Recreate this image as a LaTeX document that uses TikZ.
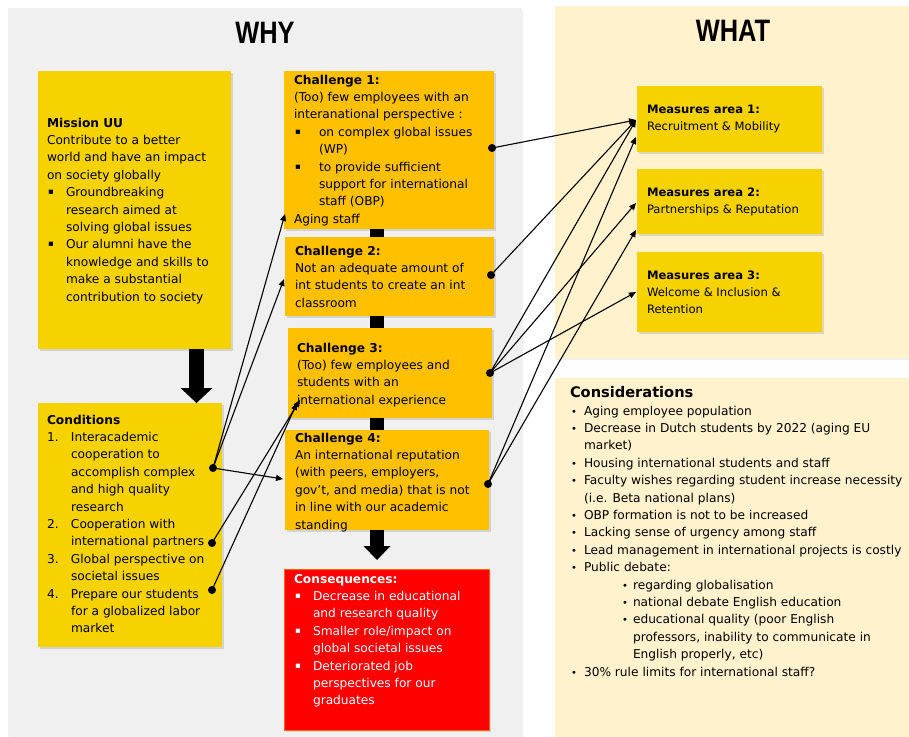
\documentclass[tikz,border=0pt]{standalone}
\usepackage{fontspec}
\usepackage{graphicx}
\setmainfont{DejaVu Sans}
\newfontfamily\titlefont{Liberation Sans}
\usetikzlibrary{arrows.meta,shadows,calc}
\definecolor{whybg}{RGB}{240,240,240}
\definecolor{whatbg}{RGB}{255,242,204}
\definecolor{gold}{RGB}{245,210,0}
\definecolor{amber}{RGB}{255,192,0}
\definecolor{conred}{RGB}{255,0,0}
\newcommand{\bodyfont}{\fontsize{12.2}{17.4}\selectfont}
\newcommand{\measfont}{\fontsize{11.6}{17}\selectfont}
\newcommand{\sq}[1]{\makebox[#1][l]{\hspace*{1pt}\raisebox{2pt}{\fontsize{8.5}{8.5}\selectfont ▪}}}
\newcommand{\rb}[1]{\makebox[#1][l]{\fontsize{10}{10}\selectfont •}}
\newcommand{\ind}[1]{\hspace*{#1}}
\begin{document}
\begin{tikzpicture}[x=1pt,y=-1pt,
 panel/.style={inner sep=0pt,outer sep=0pt,anchor=north west,drop shadow={shadow xshift=1pt,shadow yshift=-1.5pt,opacity=0.12}},
 box/.style={inner sep=0pt,outer sep=0pt,anchor=north west,drop shadow={shadow xshift=1.5pt,shadow yshift=-2pt,opacity=0.25}},
 txt/.style={inner sep=0pt,outer sep=0pt,anchor=north west,align=left,font=\bodyfont},
 mtxt/.style={inner sep=0pt,outer sep=0pt,anchor=north west,align=left,font=\measfont},
 link/.style={line width=1.1pt,-{Triangle[length=7pt,width=6pt]}},
 flow/.style={line width=14pt},
 title/.style={font=\titlefont\bfseries\fontsize{31}{31}\selectfont}
]
\useasboundingbox (0,0) rectangle (909,736);
% panels
\node[panel,fill=whybg,minimum width=514,minimum height=728] (whyp) at (8,8) {};
\node[panel,fill=whatbg,minimum width=356,minimum height=352] (whatp) at (555,6) {};
\node[panel,fill=whatbg,minimum width=356,minimum height=360] (consp) at (555,378) {};
\node[title] (why) at (265,33) {\scalebox{0.82}[1]{WHY}};
\node[title] (what) at (733,31) {\scalebox{0.82}[1]{WHAT}};
% boxes
\node[box,fill=gold,minimum width=193,minimum height=278] (mission) at (38,71) {};
\node[box,fill=gold,minimum width=184,minimum height=244] (cond) at (38,403) {};
\node[box,fill=amber,minimum width=210,minimum height=158] (ch1) at (284,71) {};
\node[box,fill=amber,minimum width=209,minimum height=79] (ch2) at (285,237) {};
\node[box,fill=amber,minimum width=204,minimum height=90] (ch3) at (288,328) {};
\node[box,fill=amber,minimum width=204,minimum height=100] (ch4) at (285,430) {};
\node[box,fill=conred,draw=orange!80!red,line width=0.6pt,minimum width=205,minimum height=161] (cons) at (284,569) {};
\node[box,fill=gold,minimum width=185,minimum height=66] (m1) at (637,86) {};
\node[box,fill=gold,minimum width=185,minimum height=65] (m2) at (637,169) {};
\node[box,fill=gold,minimum width=185,minimum height=80] (m3) at (637,252) {};
% texts
\node[txt] (missiontxt) at (47,115) {\strut\textbf{Mission UU}\\
Contribute to a better\\
world and have an impact\\
on society globally\\
\sq{19pt}Groundbreaking\\
\ind{19pt}research aimed at\\
\ind{19pt}solving global issues\\
\sq{19pt}Our alumni have the\\
\ind{19pt}knowledge and skills to\\
\ind{19pt}make a substantial\\
\ind{19pt}contribution to society};
\node[txt] (condtxt) at (47,412) {\strut\textbf{Conditions}\\
\makebox[24pt][l]{1.}Interacademic\\
\ind{24pt}cooperation to\\
\ind{24pt}accomplish complex\\
\ind{24pt}and high quality\\
\ind{24pt}research\\
\makebox[24pt][l]{2.}Cooperation with\\
\ind{24pt}international partners\\
\makebox[24pt][l]{3.}Global perspective on\\
\ind{24pt}societal issues\\
\makebox[24pt][l]{4.}Prepare our students\\
\ind{24pt}for a globalized labor\\
\ind{24pt}market};
\node[txt] (ch1txt) at (294,72) {\strut\textbf{Challenge 1:}\\
(Too) few employees with an\\
interanational perspective :\\
\sq{25pt}on complex global issues\\
\ind{25pt}(WP)\\
\sq{25pt}to provide sufficient\\
\ind{25pt}support for international\\
\ind{25pt}staff (OBP)\\
Aging staff};
\node[txt] (ch2txt) at (295,243) {\strut\textbf{Challenge 2:}\\
Not an adequate amount of\\
int students to create an int\\
classroom};
\node[txt] (ch3txt) at (297,340) {\strut\textbf{Challenge 3:}\\
(Too) few employees and\\
students with an\\
international experience};
\node[txt] (ch4txt) at (295,430) {\strut\textbf{Challenge 4:}\\
An international reputation\\
(with peers, employers,\\
gov’t, and media) that is not\\
in line with our academic\\
standing};
\node[txt,text=white] (constxt) at (294,571) {\strut\textbf{Consequences:}\\
\sq{19pt}Decrease in educational\\
\ind{19pt}and research quality\\
\sq{19pt}Smaller role/impact on\\
\ind{19pt}global societal issues\\
\sq{19pt}Deteriorated job\\
\ind{19pt}perspectives for our\\
\ind{19pt}graduates};
\node[mtxt] (m1txt) at (647,102) {\strut\textbf{Measures area 1:}\\
Recruitment \& Mobility};
\node[mtxt] (m2txt) at (647,185) {\strut\textbf{Measures area 2:}\\
Partnerships \& Reputation};
\node[mtxt] (m3txt) at (647,268) {\strut\textbf{Measures area 3:}\\
Welcome \& Inclusion \&\\
Retention};
\node[txt,font=\fontsize{14.6}{17}\selectfont\bfseries] (constitle) at (570,386) {\strut Considerations};
\node[txt] (conslist) at (571,403) {\strut\rb{13pt}Aging employee population\\
\rb{13pt}Decrease in Dutch students by 2022 (aging EU\\
\ind{13pt}market)\\
\rb{13pt}Housing international students and staff\\
\rb{13pt}Faculty wishes regarding student increase necessity\\
\ind{13pt}(i.e. Beta national plans)\\
\rb{13pt}OBP formation is not to be increased\\
\rb{13pt}Lacking sense of urgency among staff\\
\rb{13pt}Lead management in international projects is costly\\
\rb{13pt}Public debate:\\
\ind{51pt}\rb{11pt}regarding globalisation\\
\ind{51pt}\rb{11pt}national debate English education\\
\ind{51pt}\rb{11pt}educational quality (poor English\\
\ind{62pt}professors, inability to communicate in\\
\ind{62pt}English properly, etc)\\
\rb{13pt}30\% rule limits for international staff?};
% block flow connectors
\coordinate (cx) at (377,0);
\coordinate (mx) at (196.5,0);
\draw[flow] (ch1.south -| cx) -- (ch2.north -| cx);
\draw[flow] (ch2.south -| cx) -- (ch3.north -| cx);
\draw[flow] (ch3.south -| cx) -- (ch4.north -| cx);
\draw[flow,-{Triangle[length=14pt,width=27pt,line width=0pt]}] (ch4.south -| cx) -- ($(cons.north -| cx)+(0,-9)$);
\draw[line width=15pt,-{Triangle[length=15pt,width=32pt,line width=0pt]}] (mission.south -| mx) -- (cond.north -| mx);
% dots and targets
\coordinate (d1) at ($(ch1.east)+(-2,-2)$);
\coordinate (d2) at ($(ch2.east)+(-3,-1.5)$);
\coordinate (d3) at ($(ch3.east)+(-2,0)$);
\coordinate (d4) at ($(ch4.east)+(-1,4)$);
\coordinate (t1a) at ($(m1.west)+(-1,1)$);
\coordinate (t1b) at ($(m1.west)+(-1,18)$);
\coordinate (t2a) at ($(m2.west)+(-1,1.5)$);
\coordinate (t2b) at ($(m2.west)+(-1,28.5)$);
\coordinate (t3) at ($(m3.west)+(-1,0)$);
\coordinate (e1) at ($(cond.east)+(-9,-57)$);
\coordinate (e2) at ($(cond.east)+(-10,18)$);
\coordinate (e3) at ($(cond.east)+(-10,65)$);
\coordinate (s1) at ($(ch1.south west)+(1,-15)$);
\coordinate (s2) at ($(ch2.west)+(-1,2.5)$);
\coordinate (s4) at ($(ch4.west)+(-2,-1)$);
\coordinate (s3a) at ($(ch3.south west)+(12,-18)$);
\coordinate (s3b) at ($(ch3.south west)+(9,-15)$);
\draw[link] (d1) -- (t1a);
\draw[link] (d2) -- (t1a);
\draw[link] (d3) -- (t1a);
\draw[link] (d3) -- (t2a);
\draw[link] (d3) -- (t3);
\draw[link] (d4) -- (t1b);
\draw[link] (d4) -- (t2b);
\draw[link] (e1) -- (s1);
\draw[link] (e1) -- (s2);
\draw[link] (e1) -- (s4);
\draw[link] (e2) -- (s3a);
\draw[link] (e3) -- (s3b);
\foreach \d in {d1,d2,d3,d4,e1,e2,e3} \fill (\d) circle[radius=4pt];
\end{tikzpicture}
\end{document}
